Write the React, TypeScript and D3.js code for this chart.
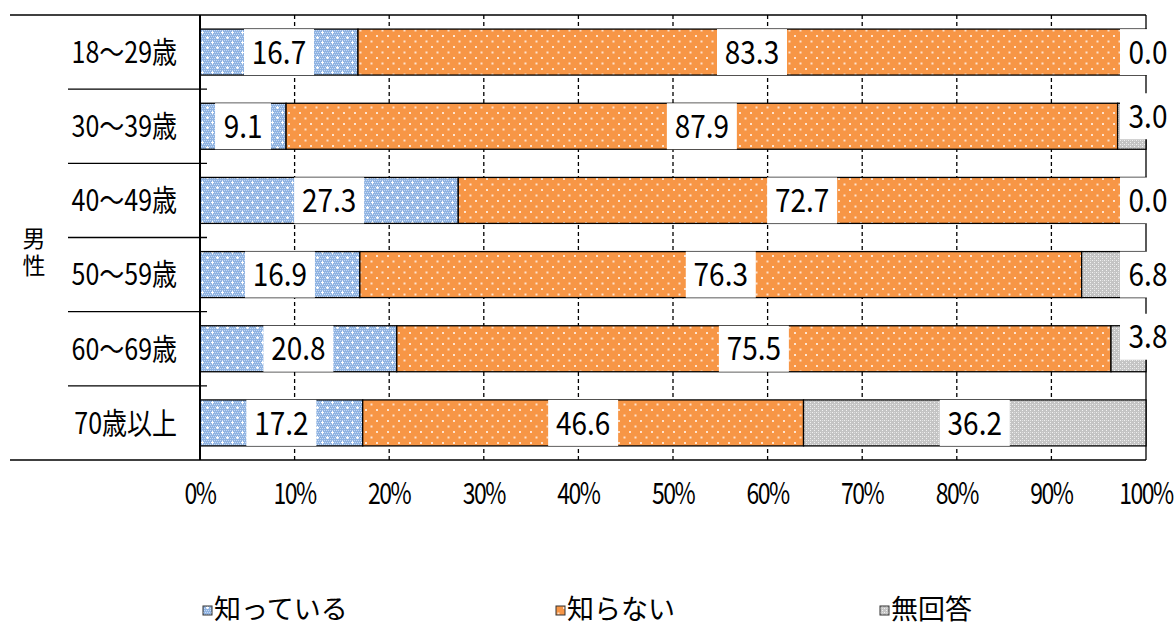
import React from 'react'
import * as d3 from 'd3'

const categories = ['18～29歳', '30～39歳', '40～49歳', '50～59歳', '60～69歳', '70歳以上']
const seriesNames = ['知っている', '知らない', '無回答']
const knowValues = [16.7, 9.1, 27.3, 16.9, 20.8, 17.2]
const notKnowValues = [83.3, 87.9, 72.7, 76.3, 75.5, 46.6]
const noAnswerValues = [0.0, 3.0, 0.0, 6.8, 3.8, 36.2]
const tickValues = [0, 10, 20, 30, 40, 50, 60, 70, 80, 90, 100]
const groupLabel = '男性'

// small vertical nudges for the end labels (as in the original)
const endLabelDy = [0, -10, 0, 0, -12, 0]

const W = 1176
const H = 628
const left = 200
const right = 1146
const top = 15
const bottom = 460
const font = '"Noto Sans CJK JP", "Noto Sans", sans-serif'

const patternIds = ['pBlue', 'pOrange', 'pGray']

// text drawn a bit taller than wide, like the original's gothic face
const Tall = ({ x, y, size, sy = 1.2, anchor = 'middle', spacing = 0, children }: any) => (
  <text
    transform={`translate(${x},${y}) scale(1,${sy})`}
    dy="0.36em"
    textAnchor={anchor}
    fontSize={size}
    letterSpacing={spacing}
    fill="#000"
  >
    {children}
  </text>
)

const Patterns = () => (
  <defs>
    <pattern id="pBlue" width="10" height="10" patternUnits="userSpaceOnUse">
      <rect width="10" height="10" fill="#8fb3e2" />
      {d3.range(0, 10, 2).map((i) =>
        d3.range(0, 10, 2).map((j) => (
          <rect key={i + '-' + j} x={i + ((j / 2) % 2)} y={j} width="1" height="1" fill="#c9dbf3" />
        )),
      )}
      <rect x="1" y="2" width="3" height="1" fill="#fff" />
      <rect x="2" y="1" width="1" height="3" fill="#fff" />
      <rect x="6" y="7" width="3" height="1" fill="#fff" />
      <rect x="7" y="6" width="1" height="3" fill="#fff" />
    </pattern>
    <pattern id="pOrange" width="11" height="11" patternUnits="userSpaceOnUse">
      <rect width="11" height="11" fill="#f79646" />
      <rect x="2" y="2" width="2" height="2" fill="#fde3cf" />
      <rect x="7.5" y="7.5" width="2" height="2" fill="#fde3cf" />
    </pattern>
    <pattern id="pGray" width="4" height="4" patternUnits="userSpaceOnUse">
      <rect width="4" height="4" fill="#c4c4c4" />
      <rect x="0" y="0" width="1" height="1" fill="#f2f2f2" />
      <rect x="2" y="2" width="1" height="1" fill="#f2f2f2" />
      <rect x="2" y="0" width="1" height="1" fill="#dedede" />
    </pattern>
  </defs>
)

export default function App() {
  const x = d3.scaleLinear().domain([0, 100]).range([left, right]).clamp(true)
  const y = d3
    .scaleBand<string>()
    .domain(categories)
    .range([top, bottom])
    .paddingInner(0.38)
    .paddingOuter(0.19)
  const step = y.step()
  const bw = y.bandwidth()

  const rows = categories.map((c, i) => ({
    cat: c,
    vals: [knowValues[i], notKnowValues[i], noAnswerValues[i]],
  }))
  const stack = d3.stack<any>().keys(['0', '1', '2'])(rows.map((r) => ({ ...r.vals })))

  return (
    <svg width={W} height={H} style={{ position: 'absolute', left: 0, top: 0 }} fontFamily={font}>
      <Patterns />
      <rect width={W} height={H} fill="#fff" />
      {/* grid */}
      {tickValues.slice(1, -1).map((t) => (
        <line key={t} x1={x(t)} x2={x(t)} y1={top} y2={bottom} stroke="#000" strokeWidth={1.3} strokeDasharray="4,3" />
      ))}
      <line x1={right} x2={right} y1={top} y2={bottom} stroke="#000" strokeWidth={1.3} />
      <line x1={10} x2={right} y1={top} y2={top} stroke="#000" strokeWidth={1.3} />
      <line x1={10} x2={right} y1={bottom} y2={bottom} stroke="#000" strokeWidth={1.3} />
      {categories.slice(1).map((c) => (
        <line key={c} x1={68} x2={207} y1={(y(c) ?? 0) - (step - bw) / 2} y2={(y(c) ?? 0) - (step - bw) / 2} stroke="#000" strokeWidth={1.3} />
      ))}
      {/* bars */}
      {stack.map((s, si) =>
        s.map((d, i) => {
          const x0 = x(d[0])
          const x1 = x(d[1])
          if (x1 - x0 <= 0) return null
          return (
            <rect key={si + '-' + i} x={x0} y={y(categories[i])} width={x1 - x0} height={bw}
              fill={`url(#${patternIds[si]})`} stroke="#000" strokeWidth={1.3} />
          )
        }),
      )}
      <line x1={left} x2={left} y1={top} y2={bottom} stroke="#000" strokeWidth={2} />
      {/* value labels */}
      {stack.map((s, si) =>
        s.map((d, i) => {
          const v = rows[i].vals[si]
          const txt = v.toFixed(1)
          const small = si === 2 && v < 10
          const cx = small ? x(100) + 2 : (x(d[0]) + x(d[1])) / 2
          const by = (y(categories[i]) ?? 0) + (small ? endLabelDy[i] : 0)
          const boxW = txt.length * 14 + 14
          return (
            <g key={'l' + si + '-' + i}>
              <rect x={cx - boxW / 2} y={by} width={boxW} height={bw} fill="#fff" />
              <Tall x={cx} y={by + bw / 2} size={28} sy={1.15}>{txt}</Tall>
            </g>
          )
        }),
      )}
      {/* category labels */}
      {categories.map((c) => (
        <Tall key={c} x={177} y={(y(c) ?? 0) + bw / 2} size={25} sy={1.2} anchor="end">{c}</Tall>
      ))}
      <text x={34} y={227} writingMode="tb" fontSize={23} letterSpacing={4} fill="#000">
        {groupLabel}
      </text>
      {/* x ticks */}
      {tickValues.map((t) => (
        <Tall key={t} x={x(t)} y={493} size={23} sy={1.3} spacing={-1.5}>{t}%</Tall>
      ))}
      {/* legend */}
      {seriesNames.map((n, i) => {
        const lx = [203, 556, 880][i]
        return (
          <g key={n}>
            <rect x={lx} y={606} width={9} height={9} fill={`url(#${patternIds[i]})`} stroke="#333" strokeWidth={1} />
            <Tall x={lx + 11} y={609} size={27} sy={1} anchor="start">{n}</Tall>
          </g>
        )
      })}
    </svg>
  )
}
